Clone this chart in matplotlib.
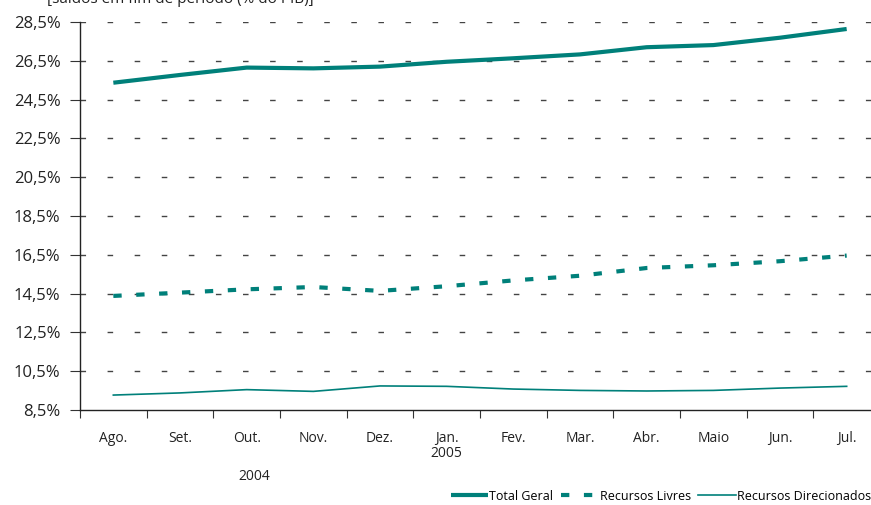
import matplotlib
matplotlib.use('Agg')
import matplotlib.pyplot as plt
import numpy as np

# dados (% do PIB)
meses = ['Ago.', 'Set.', 'Out.', 'Nov.', 'Dez.', 'Jan.', 'Fev.', 'Mar.', 'Abr.', 'Maio', 'Jun.', 'Jul.']
total_geral = [25.37, 25.77, 26.15, 26.11, 26.20, 26.45, 26.63, 26.83, 27.20, 27.31, 27.69, 28.14]
recursos_livres = [14.38, 14.55, 14.72, 14.84, 14.64, 14.88, 15.18, 15.42, 15.82, 15.96, 16.17, 16.46]
recursos_direcionados = [9.27, 9.38, 9.55, 9.46, 9.74, 9.72, 9.58, 9.51, 9.48, 9.51, 9.63, 9.72]
yticks = [8.5, 10.5, 12.5, 14.5, 16.5, 18.5, 20.5, 22.5, 24.5, 26.5, 28.5]

cor = '#00807a'
plt.rcParams['font.family'] = ['Open Sans', 'DejaVu Sans']

fig = plt.figure(figsize=(8.71, 5.05), dpi=100)
ax = fig.add_axes([80 / 871, 1 - 410 / 505, 800 / 871, (410 - 22) / 505])

x = np.arange(len(meses)) + 0.5
ax.plot(x, total_geral, color=cor, lw=3.0, solid_capstyle='butt', solid_joinstyle='round',
        label='Total Geral')
ax.plot(x, recursos_livres, color=cor, lw=3.0, linestyle=(0, (2.0, 3.5)), dash_capstyle='butt',
        label='Recursos Livres')
ax.plot(x, recursos_direcionados, color=cor, lw=1.2, label='Recursos Direcionados')

ax.set_xlim(0, len(meses))
ax.set_ylim(8.5, 28.5)
ax.set_yticks(yticks)
ax.set_yticklabels([('%.1f%%' % v).replace('.', ',') for v in yticks], fontsize=12, color='#222222')
for v in yticks[1:]:
    ax.axhline(v, color='#444444', lw=1.0, linestyle=(0, (4, 15.5)), zorder=0)

ax.set_xticks(np.arange(len(meses) + 1))
ax.set_xticklabels([])
ax.set_xticks(x, minor=True)
ax.set_xticklabels(meses, minor=True, fontsize=10, color='#222222')
ax.tick_params(axis='x', which='major', length=6, direction='out', color='#333333')
ax.tick_params(axis='x', which='minor', length=0, pad=15)
ax.tick_params(axis='y', length=7, direction='out', color='#333333', pad=7)

for s in ['top', 'right']:
    ax.spines[s].set_visible(False)
for s in ['left', 'bottom']:
    ax.spines[s].set_color('#222222')
    ax.spines[s].set_linewidth(1.0)

ax.text(5.5, -0.113, '2005', transform=ax.get_xaxis_transform(), ha='center', va='center',
        fontsize=10, color='#222222')
ax.text(2.62, -0.172, '2004', transform=ax.get_xaxis_transform(), ha='center', va='center',
        fontsize=10, color='#222222')

fig.text(180 / 871, 1 - 3 / 505, '[saldos em fim de período (% do PIB)]', ha='center', va='baseline',
         fontsize=11, color='#222222')

fig.legend(loc='center right', bbox_to_anchor=(1.0, 1 - 496 / 505), ncol=3, frameon=False,
           fontsize=9, handlelength=3.0, handletextpad=0.1, columnspacing=0.6,
           borderaxespad=0, borderpad=0)

fig.savefig('out.png', dpi=100)
